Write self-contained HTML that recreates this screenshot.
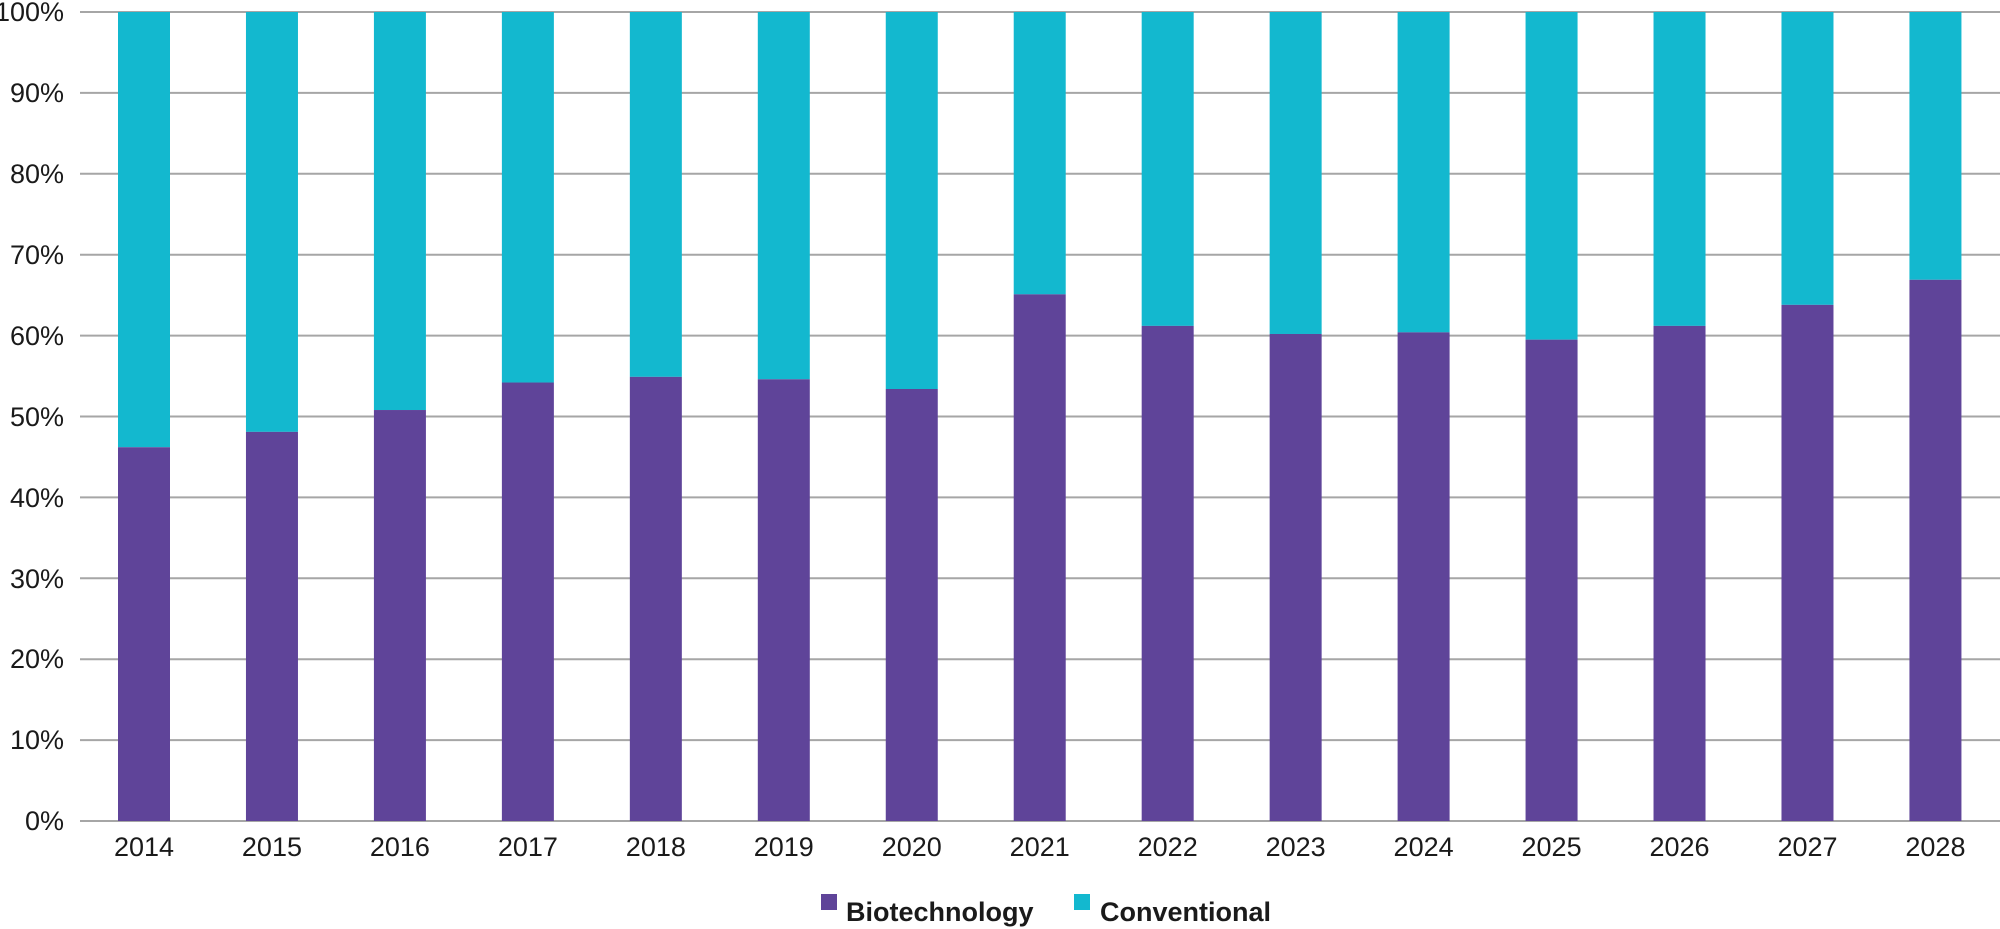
<!DOCTYPE html>
<html><head><meta charset="utf-8"><style>
html,body{margin:0;padding:0;background:#fff;}
svg{display:block;font-family:"Liberation Sans",sans-serif;}
</style></head><body>
<svg width="2000" height="929" viewBox="0 0 2000 929">
<g stroke="#a6a6a6" stroke-width="2">
<line x1="80" x2="2000" y1="12" y2="12"/>
<line x1="80" x2="2000" y1="92.9" y2="92.9"/>
<line x1="80" x2="2000" y1="173.8" y2="173.8"/>
<line x1="80" x2="2000" y1="254.7" y2="254.7"/>
<line x1="80" x2="2000" y1="335.6" y2="335.6"/>
<line x1="80" x2="2000" y1="416.5" y2="416.5"/>
<line x1="80" x2="2000" y1="497.4" y2="497.4"/>
<line x1="80" x2="2000" y1="578.3" y2="578.3"/>
<line x1="80" x2="2000" y1="659.2" y2="659.2"/>
<line x1="80" x2="2000" y1="740.1" y2="740.1"/>
<line x1="80" x2="2000" y1="821" y2="821"/>
</g>
<g font-size="27" fill="#1a1a1a" text-anchor="end">
<text x="64" y="21">100%</text>
<text x="64" y="102">90%</text>
<text x="64" y="183">80%</text>
<text x="64" y="264">70%</text>
<text x="64" y="345">60%</text>
<text x="64" y="426">50%</text>
<text x="64" y="507">40%</text>
<text x="64" y="588">30%</text>
<text x="64" y="668">20%</text>
<text x="64" y="749">10%</text>
<text x="64" y="830">0%</text>
</g>
<g id="bars"></g>
<g font-size="27" fill="#1a1a1a" text-anchor="middle" id="xl"></g>
<rect x="821" y="894" width="16" height="16" fill="#5f4499"/>
<text x="846" y="921" font-size="27" font-weight="bold" fill="#1a1a1a">Biotechnology</text>
<rect x="1074" y="894" width="16" height="16" fill="#13b8cf"/>
<text x="1100" y="921" font-size="27" font-weight="bold" fill="#1a1a1a">Conventional</text>
<script>
var v=[46.2,48.1,50.8,54.2,54.9,54.6,53.4,65.1,61.2,60.2,60.4,59.5,61.2,63.8,66.9];
var ns="http://www.w3.org/2000/svg",b=document.getElementById("bars"),xl=document.getElementById("xl");
for(var i=0;i<15;i++){var c=144+i*127.96,x=c-26,t=821-v[i]*8.09;
var r1=document.createElementNS(ns,"rect");r1.setAttribute("x",x);r1.setAttribute("y",12);r1.setAttribute("width",52);r1.setAttribute("height",t-12);r1.setAttribute("fill","#13b8cf");b.appendChild(r1);
var r2=document.createElementNS(ns,"rect");r2.setAttribute("x",x);r2.setAttribute("y",t);r2.setAttribute("width",52);r2.setAttribute("height",821-t);r2.setAttribute("fill","#5f4499");b.appendChild(r2);
var tx=document.createElementNS(ns,"text");tx.setAttribute("x",c);tx.setAttribute("y",856);tx.textContent=2014+i;xl.appendChild(tx);}
</script>
</svg>
</body></html>
